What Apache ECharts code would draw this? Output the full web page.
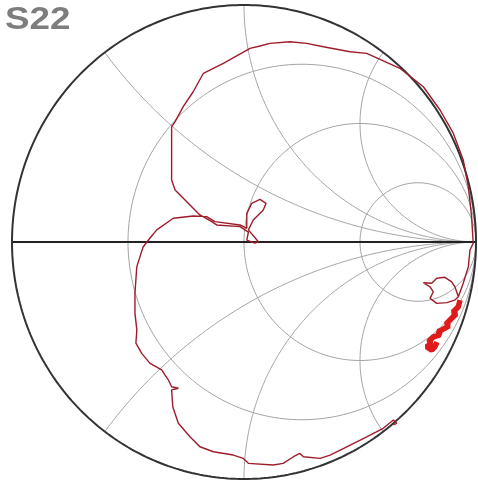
<!DOCTYPE html>
<html>
<head>
<meta charset="utf-8">
<script src="https://cdn.jsdelivr.net/npm/echarts@6/dist/echarts.min.js"></script>
<style>
html,body{margin:0;padding:0;background:#fff;}
#chart{width:478px;height:484px;}
</style>
</head>
<body>
<div id="chart"></div>
<script>
// Smith chart grid values
const resistanceValues = [1/3, 1, 3];
const reactanceValues = [0.5, 1, 2, -0.5, -1, -2];
const titleText = 'S22';

// S22 trace: reflection coefficient (real, imaginary)
const traceRe = [0.644,0.658,0.644,0.600,0.529,0.443,0.371,0.328,0.256,0.241,0.213,0.169,0.126,0.019,-0.003,-0.046,-0.132,-0.190,-0.233,-0.283,-0.307,-0.312,-0.283,-0.312,-0.326,-0.341,-0.355,-0.405,-0.441,-0.466,-0.462,-0.470,-0.470,-0.462,-0.435,-0.405,-0.376,-0.305,-0.219,-0.161,-0.125,-0.017,0.012,0.012,0.012,0.033,0.069,0.095,0.083,0.040,0.019,0.062,0.047,0.012,0.019,-0.017,-0.118,-0.139,-0.190,-0.297,-0.312,-0.312,-0.312,-0.297,-0.262,-0.219,-0.175,-0.139,-0.089,0.026,0.069,0.112,0.198,0.270,0.342,0.457,0.529,0.672,0.773,0.845,0.902,0.945,0.967,0.981,0.988,0.974,0.967,0.945,0.924,0.909,0.895,0.866,0.831,0.809,0.773,0.766,0.802,0.816,0.802,0.831,0.874,0.909,0.924];
const traceIm = [-0.772,-0.765,-0.751,-0.786,-0.822,-0.864,-0.899,-0.913,-0.906,-0.892,-0.906,-0.934,-0.941,-0.934,-0.913,-0.899,-0.885,-0.864,-0.822,-0.765,-0.695,-0.624,-0.617,-0.611,-0.582,-0.561,-0.540,-0.512,-0.470,-0.427,-0.371,-0.300,-0.215,-0.104,-0.021,0.017,0.051,0.100,0.110,0.107,0.086,0.072,0.058,0.093,0.121,0.163,0.180,0.163,0.135,0.093,0.051,0.001,-0.005,0.008,0.042,0.065,0.072,0.086,0.114,0.219,0.262,0.388,0.486,0.508,0.571,0.634,0.712,0.729,0.754,0.817,0.827,0.838,0.845,0.838,0.824,0.803,0.796,0.733,0.655,0.557,0.459,0.346,0.233,0.107,-0.005,-0.034,-0.104,-0.174,-0.231,-0.189,-0.168,-0.149,-0.153,-0.174,-0.172,-0.174,-0.189,-0.210,-0.238,-0.259,-0.256,-0.245,-0.231];

// dense high-frequency cluster
const clusterRe = [0.931,0.924,0.901,0.914,0.888,0.871,0.884,0.853,0.837,0.845,0.817,0.795,0.810,0.787,0.809,0.823,0.832];
const clusterIm = [-0.245,-0.273,-0.295,-0.304,-0.329,-0.346,-0.354,-0.371,-0.378,-0.392,-0.400,-0.421,-0.426,-0.442,-0.456,-0.442,-0.422];

function circlePts(cx, cy, r, n) {
  const pts = [];
  for (let i = 0; i <= n; i++) {
    const a = 2 * Math.PI * i / n;
    pts.push([cx + r * Math.cos(a), cy + r * Math.sin(a)]);
  }
  return pts;
}
function reactancePts(x) {
  const pts = [];
  for (let i = 0; i <= 400; i++) {
    const t = i / 400 * 0.9995;
    const r = t / (1 - t);
    const d = (r + 1) * (r + 1) + x * x;
    pts.push([(r * r - 1 + x * x) / d, 2 * x / d]);
  }
  pts.push([1, 0]);
  return pts;
}
function lineSeries(data, color, width, z) {
  return {
    type: 'line', data: data, showSymbol: false, symbol: 'none', silent: true,
    animation: false, z: z || 2,
    lineStyle: { color: color, width: width }
  };
}

const series = [];
resistanceValues.forEach(r => {
  series.push(lineSeries(circlePts(r / (1 + r), 0, 1 / (1 + r), 240), '#a4a4a4', 1, 1));
});
reactanceValues.forEach(x => {
  series.push(lineSeries(reactancePts(x), '#a4a4a4', 1, 1));
});
series.push(lineSeries([[-1, 0], [1, 0]], '#222222', 1.8, 3));
series.push(lineSeries(circlePts(0, 0, 1, 360), '#333333', 2, 3));
series.push(lineSeries(traceRe.map((v, i) => [v, traceIm[i]]), '#9e1c2a', 1.4, 5));
series.push(lineSeries(clusterRe.map((v, i) => [v, clusterIm[i]]), '#e01a1a', 5.5, 5));

const chart = echarts.init(document.getElementById('chart'), null, { renderer: 'canvas' });
chart.setOption({
  backgroundColor: '#ffffff',
  animation: false,
  grid: { left: 12, top: 5, width: 464, height: 474 },
  xAxis: { type: 'value', min: -1, max: 1, show: false },
  yAxis: { type: 'value', min: -1, max: 1, show: false },
  graphic: [{
    type: 'text', x: 5, y: 4, z: 10, scaleX: 1.15,
    style: { text: titleText, font: 'bold 32px "Liberation Sans", Arial, sans-serif', fill: '#7d7d7d' }
  }],
  series: series
});
</script>
</body>
</html>
